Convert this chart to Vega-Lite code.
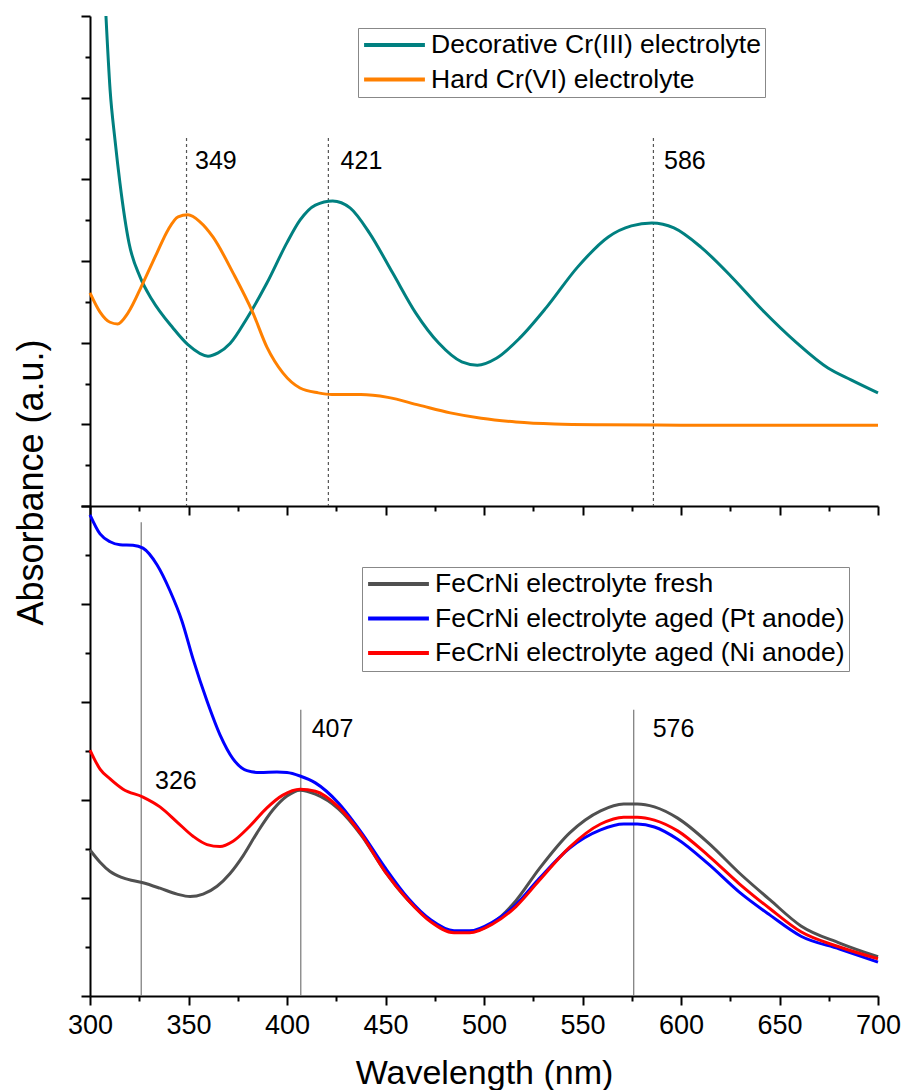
{
  "$schema": "https://vega.github.io/schema/vega-lite/v6.json",
  "padding": {"left": 13, "top": 10, "right": 5, "bottom": 0},
  "spacing": 0,
  "bounds": "flush",
  "config": {
    "view": {"stroke": null},
    "font": "Liberation Sans",
    "axis": {"domainColor": "black", "domainWidth": 2, "tickColor": "black", "tickWidth": 2, "grid": false, "labelFont": "Liberation Sans", "titleFont": "Liberation Sans", "labelColor": "black", "titleColor": "black", "titleFontWeight": "normal", "labelFlush": false},
    "legend": {"labelFont": "Liberation Sans", "labelColor": "black", "labelFontSize": 26.5, "labelLimit": 600, "symbolType": "stroke", "symbolSize": 3700, "symbolStrokeWidth": 4, "padding": 4, "rowPadding": 7.5, "clipHeight": 26, "labelOffset": 4, "strokeColor": "#888888", "fillColor": "white"}
  },
  "resolve": {"scale": {"color": "independent"}, "legend": {"color": "independent"}},
  "datasets": {
    "top": [
      {"s": "Decorative Cr(III) electrolyte", "wl": 308.1, "a": 12.0},
      {"s": "Decorative Cr(III) electrolyte", "wl": 310.2, "a": 10.19},
      {"s": "Decorative Cr(III) electrolyte", "wl": 312.7, "a": 8.96},
      {"s": "Decorative Cr(III) electrolyte", "wl": 315.2, "a": 7.91},
      {"s": "Decorative Cr(III) electrolyte", "wl": 319.8, "a": 6.44},
      {"s": "Decorative Cr(III) electrolyte", "wl": 325.4, "a": 5.61},
      {"s": "Decorative Cr(III) electrolyte", "wl": 331.5, "a": 5.05},
      {"s": "Decorative Cr(III) electrolyte", "wl": 342.1, "a": 4.36},
      {"s": "Decorative Cr(III) electrolyte", "wl": 349.7, "a": 3.95},
      {"s": "Decorative Cr(III) electrolyte", "wl": 359.9, "a": 3.67},
      {"s": "Decorative Cr(III) electrolyte", "wl": 365.0, "a": 3.75},
      {"s": "Decorative Cr(III) electrolyte", "wl": 371.1, "a": 3.98},
      {"s": "Decorative Cr(III) electrolyte", "wl": 379.7, "a": 4.6},
      {"s": "Decorative Cr(III) electrolyte", "wl": 389.8, "a": 5.46},
      {"s": "Decorative Cr(III) electrolyte", "wl": 400.0, "a": 6.45},
      {"s": "Decorative Cr(III) electrolyte", "wl": 406.6, "a": 7.0},
      {"s": "Decorative Cr(III) electrolyte", "wl": 414.4, "a": 7.37},
      {"s": "Decorative Cr(III) electrolyte", "wl": 423.2, "a": 7.47},
      {"s": "Decorative Cr(III) electrolyte", "wl": 432.0, "a": 7.3},
      {"s": "Decorative Cr(III) electrolyte", "wl": 441.8, "a": 6.69},
      {"s": "Decorative Cr(III) electrolyte", "wl": 453.6, "a": 5.71},
      {"s": "Decorative Cr(III) electrolyte", "wl": 465.3, "a": 4.73},
      {"s": "Decorative Cr(III) electrolyte", "wl": 477.0, "a": 3.99},
      {"s": "Decorative Cr(III) electrolyte", "wl": 488.7, "a": 3.53},
      {"s": "Decorative Cr(III) electrolyte", "wl": 496.6, "a": 3.45},
      {"s": "Decorative Cr(III) electrolyte", "wl": 506.3, "a": 3.62},
      {"s": "Decorative Cr(III) electrolyte", "wl": 518.1, "a": 4.11},
      {"s": "Decorative Cr(III) electrolyte", "wl": 531.8, "a": 4.87},
      {"s": "Decorative Cr(III) electrolyte", "wl": 547.5, "a": 5.85},
      {"s": "Decorative Cr(III) electrolyte", "wl": 563.1, "a": 6.59},
      {"s": "Decorative Cr(III) electrolyte", "wl": 574.8, "a": 6.86},
      {"s": "Decorative Cr(III) electrolyte", "wl": 585.2, "a": 6.93},
      {"s": "Decorative Cr(III) electrolyte", "wl": 596.4, "a": 6.81},
      {"s": "Decorative Cr(III) electrolyte", "wl": 610.1, "a": 6.34},
      {"s": "Decorative Cr(III) electrolyte", "wl": 625.7, "a": 5.61},
      {"s": "Decorative Cr(III) electrolyte", "wl": 641.3, "a": 4.8},
      {"s": "Decorative Cr(III) electrolyte", "wl": 658.9, "a": 3.99},
      {"s": "Decorative Cr(III) electrolyte", "wl": 674.6, "a": 3.38},
      {"s": "Decorative Cr(III) electrolyte", "wl": 686.3, "a": 3.09},
      {"s": "Decorative Cr(III) electrolyte", "wl": 700.0, "a": 2.77},
      {"s": "Hard Cr(VI) electrolyte", "wl": 300.0, "a": 5.22},
      {"s": "Hard Cr(VI) electrolyte", "wl": 305.1, "a": 4.75},
      {"s": "Hard Cr(VI) electrolyte", "wl": 310.2, "a": 4.5},
      {"s": "Hard Cr(VI) electrolyte", "wl": 314.0, "a": 4.46},
      {"s": "Hard Cr(VI) electrolyte", "wl": 319.3, "a": 4.73},
      {"s": "Hard Cr(VI) electrolyte", "wl": 326.9, "a": 5.46},
      {"s": "Hard Cr(VI) electrolyte", "wl": 334.0, "a": 6.2},
      {"s": "Hard Cr(VI) electrolyte", "wl": 339.6, "a": 6.76},
      {"s": "Hard Cr(VI) electrolyte", "wl": 344.7, "a": 7.08},
      {"s": "Hard Cr(VI) electrolyte", "wl": 349.7, "a": 7.13},
      {"s": "Hard Cr(VI) electrolyte", "wl": 355.8, "a": 6.96},
      {"s": "Hard Cr(VI) electrolyte", "wl": 362.4, "a": 6.59},
      {"s": "Hard Cr(VI) electrolyte", "wl": 372.6, "a": 5.71},
      {"s": "Hard Cr(VI) electrolyte", "wl": 382.7, "a": 4.73},
      {"s": "Hard Cr(VI) electrolyte", "wl": 389.8, "a": 3.89},
      {"s": "Hard Cr(VI) electrolyte", "wl": 397.9, "a": 3.26},
      {"s": "Hard Cr(VI) electrolyte", "wl": 406.6, "a": 2.89},
      {"s": "Hard Cr(VI) electrolyte", "wl": 415.9, "a": 2.77},
      {"s": "Hard Cr(VI) electrolyte", "wl": 422.8, "a": 2.73},
      {"s": "Hard Cr(VI) electrolyte", "wl": 437.5, "a": 2.73},
      {"s": "Hard Cr(VI) electrolyte", "wl": 451.2, "a": 2.66},
      {"s": "Hard Cr(VI) electrolyte", "wl": 467.0, "a": 2.47},
      {"s": "Hard Cr(VI) electrolyte", "wl": 482.9, "a": 2.28},
      {"s": "Hard Cr(VI) electrolyte", "wl": 498.6, "a": 2.15},
      {"s": "Hard Cr(VI) electrolyte", "wl": 516.2, "a": 2.06},
      {"s": "Hard Cr(VI) electrolyte", "wl": 535.8, "a": 2.01},
      {"s": "Hard Cr(VI) electrolyte", "wl": 560.0, "a": 1.99},
      {"s": "Hard Cr(VI) electrolyte", "wl": 600.0, "a": 1.98},
      {"s": "Hard Cr(VI) electrolyte", "wl": 650.0, "a": 1.98},
      {"s": "Hard Cr(VI) electrolyte", "wl": 700.0, "a": 1.98}
    ],
    "bot": [
      {"s": "FeCrNi electrolyte fresh", "wl": 300.0, "a": 2.98},
      {"s": "FeCrNi electrolyte fresh", "wl": 305.1, "a": 2.73},
      {"s": "FeCrNi electrolyte fresh", "wl": 310.2, "a": 2.54},
      {"s": "FeCrNi electrolyte fresh", "wl": 316.8, "a": 2.41},
      {"s": "FeCrNi electrolyte fresh", "wl": 326.9, "a": 2.31},
      {"s": "FeCrNi electrolyte fresh", "wl": 335.5, "a": 2.2},
      {"s": "FeCrNi electrolyte fresh", "wl": 344.2, "a": 2.08},
      {"s": "FeCrNi electrolyte fresh", "wl": 350.8, "a": 2.03},
      {"s": "FeCrNi electrolyte fresh", "wl": 357.4, "a": 2.08},
      {"s": "FeCrNi electrolyte fresh", "wl": 364.5, "a": 2.24},
      {"s": "FeCrNi electrolyte fresh", "wl": 371.1, "a": 2.5},
      {"s": "FeCrNi electrolyte fresh", "wl": 377.7, "a": 2.86},
      {"s": "FeCrNi electrolyte fresh", "wl": 384.8, "a": 3.33},
      {"s": "FeCrNi electrolyte fresh", "wl": 392.9, "a": 3.8},
      {"s": "FeCrNi electrolyte fresh", "wl": 400.0, "a": 4.08},
      {"s": "FeCrNi electrolyte fresh", "wl": 406.6, "a": 4.2},
      {"s": "FeCrNi electrolyte fresh", "wl": 414.4, "a": 4.12},
      {"s": "FeCrNi electrolyte fresh", "wl": 426.1, "a": 3.82},
      {"s": "FeCrNi electrolyte fresh", "wl": 437.9, "a": 3.27},
      {"s": "FeCrNi electrolyte fresh", "wl": 449.6, "a": 2.55},
      {"s": "FeCrNi electrolyte fresh", "wl": 461.4, "a": 1.96},
      {"s": "FeCrNi electrolyte fresh", "wl": 473.1, "a": 1.53},
      {"s": "FeCrNi electrolyte fresh", "wl": 484.8, "a": 1.31},
      {"s": "FeCrNi electrolyte fresh", "wl": 492.7, "a": 1.31},
      {"s": "FeCrNi electrolyte fresh", "wl": 504.4, "a": 1.49},
      {"s": "FeCrNi electrolyte fresh", "wl": 516.1, "a": 1.94},
      {"s": "FeCrNi electrolyte fresh", "wl": 527.9, "a": 2.59},
      {"s": "FeCrNi electrolyte fresh", "wl": 543.5, "a": 3.33},
      {"s": "FeCrNi electrolyte fresh", "wl": 559.2, "a": 3.78},
      {"s": "FeCrNi electrolyte fresh", "wl": 570.9, "a": 3.92},
      {"s": "FeCrNi electrolyte fresh", "wl": 577.8, "a": 3.92},
      {"s": "FeCrNi electrolyte fresh", "wl": 586.5, "a": 3.86},
      {"s": "FeCrNi electrolyte fresh", "wl": 598.3, "a": 3.63},
      {"s": "FeCrNi electrolyte fresh", "wl": 614.0, "a": 3.12},
      {"s": "FeCrNi electrolyte fresh", "wl": 629.6, "a": 2.51},
      {"s": "FeCrNi electrolyte fresh", "wl": 645.2, "a": 1.96},
      {"s": "FeCrNi electrolyte fresh", "wl": 660.9, "a": 1.43},
      {"s": "FeCrNi electrolyte fresh", "wl": 680.5, "a": 1.08},
      {"s": "FeCrNi electrolyte fresh", "wl": 700.0, "a": 0.8},
      {"s": "FeCrNi electrolyte aged (Pt anode)", "wl": 300.0, "a": 9.82},
      {"s": "FeCrNi electrolyte aged (Pt anode)", "wl": 305.1, "a": 9.43},
      {"s": "FeCrNi electrolyte aged (Pt anode)", "wl": 310.2, "a": 9.27},
      {"s": "FeCrNi electrolyte aged (Pt anode)", "wl": 315.2, "a": 9.21},
      {"s": "FeCrNi electrolyte aged (Pt anode)", "wl": 321.8, "a": 9.2},
      {"s": "FeCrNi electrolyte aged (Pt anode)", "wl": 326.9, "a": 9.14},
      {"s": "FeCrNi electrolyte aged (Pt anode)", "wl": 334.0, "a": 8.8},
      {"s": "FeCrNi electrolyte aged (Pt anode)", "wl": 340.6, "a": 8.27},
      {"s": "FeCrNi electrolyte aged (Pt anode)", "wl": 346.7, "a": 7.65},
      {"s": "FeCrNi electrolyte aged (Pt anode)", "wl": 352.3, "a": 6.88},
      {"s": "FeCrNi electrolyte aged (Pt anode)", "wl": 359.4, "a": 6.02},
      {"s": "FeCrNi electrolyte aged (Pt anode)", "wl": 366.0, "a": 5.33},
      {"s": "FeCrNi electrolyte aged (Pt anode)", "wl": 372.6, "a": 4.84},
      {"s": "FeCrNi electrolyte aged (Pt anode)", "wl": 379.7, "a": 4.6},
      {"s": "FeCrNi electrolyte aged (Pt anode)", "wl": 386.3, "a": 4.56},
      {"s": "FeCrNi electrolyte aged (Pt anode)", "wl": 394.9, "a": 4.57},
      {"s": "FeCrNi electrolyte aged (Pt anode)", "wl": 400.0, "a": 4.56},
      {"s": "FeCrNi electrolyte aged (Pt anode)", "wl": 406.6, "a": 4.49},
      {"s": "FeCrNi electrolyte aged (Pt anode)", "wl": 414.4, "a": 4.35},
      {"s": "FeCrNi electrolyte aged (Pt anode)", "wl": 426.1, "a": 3.94},
      {"s": "FeCrNi electrolyte aged (Pt anode)", "wl": 437.9, "a": 3.33},
      {"s": "FeCrNi electrolyte aged (Pt anode)", "wl": 449.6, "a": 2.63},
      {"s": "FeCrNi electrolyte aged (Pt anode)", "wl": 461.4, "a": 2.0},
      {"s": "FeCrNi electrolyte aged (Pt anode)", "wl": 473.1, "a": 1.55},
      {"s": "FeCrNi electrolyte aged (Pt anode)", "wl": 484.8, "a": 1.33},
      {"s": "FeCrNi electrolyte aged (Pt anode)", "wl": 492.7, "a": 1.33},
      {"s": "FeCrNi electrolyte aged (Pt anode)", "wl": 504.4, "a": 1.51},
      {"s": "FeCrNi electrolyte aged (Pt anode)", "wl": 516.1, "a": 1.86},
      {"s": "FeCrNi electrolyte aged (Pt anode)", "wl": 527.9, "a": 2.39},
      {"s": "FeCrNi electrolyte aged (Pt anode)", "wl": 543.5, "a": 3.02},
      {"s": "FeCrNi electrolyte aged (Pt anode)", "wl": 559.2, "a": 3.39},
      {"s": "FeCrNi electrolyte aged (Pt anode)", "wl": 570.9, "a": 3.51},
      {"s": "FeCrNi electrolyte aged (Pt anode)", "wl": 577.8, "a": 3.51},
      {"s": "FeCrNi electrolyte aged (Pt anode)", "wl": 586.5, "a": 3.45},
      {"s": "FeCrNi electrolyte aged (Pt anode)", "wl": 598.3, "a": 3.2},
      {"s": "FeCrNi electrolyte aged (Pt anode)", "wl": 614.0, "a": 2.69},
      {"s": "FeCrNi electrolyte aged (Pt anode)", "wl": 629.6, "a": 2.12},
      {"s": "FeCrNi electrolyte aged (Pt anode)", "wl": 645.2, "a": 1.65},
      {"s": "FeCrNi electrolyte aged (Pt anode)", "wl": 660.9, "a": 1.22},
      {"s": "FeCrNi electrolyte aged (Pt anode)", "wl": 680.5, "a": 0.96},
      {"s": "FeCrNi electrolyte aged (Pt anode)", "wl": 700.0, "a": 0.69},
      {"s": "FeCrNi electrolyte aged (Ni anode)", "wl": 300.0, "a": 5.02},
      {"s": "FeCrNi electrolyte aged (Ni anode)", "wl": 305.1, "a": 4.63},
      {"s": "FeCrNi electrolyte aged (Ni anode)", "wl": 310.2, "a": 4.43},
      {"s": "FeCrNi electrolyte aged (Ni anode)", "wl": 316.8, "a": 4.22},
      {"s": "FeCrNi electrolyte aged (Ni anode)", "wl": 326.9, "a": 4.06},
      {"s": "FeCrNi electrolyte aged (Ni anode)", "wl": 335.5, "a": 3.86},
      {"s": "FeCrNi electrolyte aged (Ni anode)", "wl": 344.2, "a": 3.55},
      {"s": "FeCrNi electrolyte aged (Ni anode)", "wl": 352.3, "a": 3.26},
      {"s": "FeCrNi electrolyte aged (Ni anode)", "wl": 359.4, "a": 3.09},
      {"s": "FeCrNi electrolyte aged (Ni anode)", "wl": 366.0, "a": 3.05},
      {"s": "FeCrNi electrolyte aged (Ni anode)", "wl": 372.6, "a": 3.16},
      {"s": "FeCrNi electrolyte aged (Ni anode)", "wl": 381.2, "a": 3.47},
      {"s": "FeCrNi electrolyte aged (Ni anode)", "wl": 389.8, "a": 3.84},
      {"s": "FeCrNi electrolyte aged (Ni anode)", "wl": 397.9, "a": 4.1},
      {"s": "FeCrNi electrolyte aged (Ni anode)", "wl": 406.6, "a": 4.22},
      {"s": "FeCrNi electrolyte aged (Ni anode)", "wl": 414.4, "a": 4.18},
      {"s": "FeCrNi electrolyte aged (Ni anode)", "wl": 426.1, "a": 3.86},
      {"s": "FeCrNi electrolyte aged (Ni anode)", "wl": 437.9, "a": 3.29},
      {"s": "FeCrNi electrolyte aged (Ni anode)", "wl": 449.6, "a": 2.55},
      {"s": "FeCrNi electrolyte aged (Ni anode)", "wl": 461.4, "a": 1.96},
      {"s": "FeCrNi electrolyte aged (Ni anode)", "wl": 473.1, "a": 1.51},
      {"s": "FeCrNi electrolyte aged (Ni anode)", "wl": 484.8, "a": 1.29},
      {"s": "FeCrNi electrolyte aged (Ni anode)", "wl": 492.7, "a": 1.29},
      {"s": "FeCrNi electrolyte aged (Ni anode)", "wl": 504.4, "a": 1.47},
      {"s": "FeCrNi electrolyte aged (Ni anode)", "wl": 516.1, "a": 1.82},
      {"s": "FeCrNi electrolyte aged (Ni anode)", "wl": 527.9, "a": 2.35},
      {"s": "FeCrNi electrolyte aged (Ni anode)", "wl": 543.5, "a": 3.04},
      {"s": "FeCrNi electrolyte aged (Ni anode)", "wl": 559.2, "a": 3.51},
      {"s": "FeCrNi electrolyte aged (Ni anode)", "wl": 570.9, "a": 3.65},
      {"s": "FeCrNi electrolyte aged (Ni anode)", "wl": 577.8, "a": 3.65},
      {"s": "FeCrNi electrolyte aged (Ni anode)", "wl": 586.5, "a": 3.59},
      {"s": "FeCrNi electrolyte aged (Ni anode)", "wl": 598.3, "a": 3.37},
      {"s": "FeCrNi electrolyte aged (Ni anode)", "wl": 614.0, "a": 2.86},
      {"s": "FeCrNi electrolyte aged (Ni anode)", "wl": 629.6, "a": 2.29},
      {"s": "FeCrNi electrolyte aged (Ni anode)", "wl": 645.2, "a": 1.78},
      {"s": "FeCrNi electrolyte aged (Ni anode)", "wl": 660.9, "a": 1.31},
      {"s": "FeCrNi electrolyte aged (Ni anode)", "wl": 680.5, "a": 1.0},
      {"s": "FeCrNi electrolyte aged (Ni anode)", "wl": 700.0, "a": 0.76}
    ],
    "topPeaks": [
      {"peak": 349, "ytop": 9.01, "lx": 353.3, "ly": 8.45, "label": "349"},
      {"peak": 421, "ytop": 9.01, "lx": 427.2, "ly": 8.45, "label": "421"},
      {"peak": 586, "ytop": 9.01, "lx": 591.4, "ly": 8.45, "label": "586"}
    ],
    "botPeaks": [
      {"peak": 326, "ytop": 9.67, "lx": 333.0, "ly": 4.39, "label": "326"},
      {"peak": 407, "ytop": 5.84, "lx": 412.5, "ly": 5.45, "label": "407"},
      {"peak": 576, "ytop": 5.84, "lx": 585.6, "ly": 5.45, "label": "576"}
    ]
  },
  "vconcat": [
    {
      "width": 788,
      "height": 490,
      "layer": [
        {
          "data": {"name": "topPeaks"},
          "mark": {"type": "rule", "color": "#555555", "strokeWidth": 1.2, "strokeDash": [3, 3]},
          "encoding": {
            "x": {"field": "peak", "type": "quantitative", "scale": {"domain": [300, 700], "nice": false, "zero": false}, "axis": {"orient": "bottom", "values": [325, 375, 425, 475, 525, 575, 625, 675], "tickSize": 5, "labels": false, "domain": false, "title": null}},
            "y": {"field": "ytop", "type": "quantitative", "scale": {"domain": [0, 12], "nice": false, "zero": false}, "axis": {"orient": "left", "values": [1, 3, 5, 7, 9, 11], "tickSize": 5, "labels": false, "domain": false, "title": null}},
            "y2": {"datum": 0}
          }
        },
        {
          "data": {"name": "top"},
          "mark": {"type": "line", "interpolate": "monotone", "strokeWidth": 3},
          "encoding": {
            "x": {"field": "wl", "type": "quantitative", "scale": {"domain": [300, 700], "nice": false, "zero": false}, "axis": {"orient": "bottom", "values": [300, 350, 400, 450, 500, 550, 600, 650, 700], "tickSize": 9, "labels": false, "title": null}},
            "y": {"field": "a", "type": "quantitative", "scale": {"domain": [0, 12], "nice": false, "zero": false}, "axis": {"orient": "left", "values": [0, 2, 4, 6, 8, 10, 12], "tickSize": 9, "labels": false, "title": "Absorbance (a.u.)", "titleFontSize": 36, "titleAngle": -90, "titleX": -59, "titleY": 466, "titleAlign": "center", "titleBaseline": "middle"}},
            "color": {"field": "s", "type": "nominal", "scale": {"domain": ["Decorative Cr(III) electrolyte", "Hard Cr(VI) electrolyte"], "range": ["#008080", "#ff8000"]}, "legend": {"orient": "none", "legendX": 268, "legendY": 12, "title": null}}
          }
        },
        {
          "data": {"name": "topPeaks"},
          "mark": {"type": "text", "align": "left", "baseline": "middle", "fontSize": 25, "font": "Liberation Sans", "color": "black"},
          "encoding": {
            "x": {"field": "lx", "type": "quantitative", "scale": {"domain": [300, 700], "nice": false, "zero": false}, "axis": null},
            "y": {"field": "ly", "type": "quantitative", "scale": {"domain": [0, 12], "nice": false, "zero": false}, "axis": null},
            "text": {"field": "label"}
          }
        }
      ],
      "resolve": {"axis": {"x": "independent", "y": "independent"}}
    },
    {
      "width": 788,
      "height": 490,
      "layer": [
        {
          "data": {"name": "botPeaks"},
          "mark": {"type": "rule", "color": "#777777", "strokeWidth": 1.2},
          "encoding": {
            "x": {"field": "peak", "type": "quantitative", "scale": {"domain": [300, 700], "nice": false, "zero": false}, "axis": {"orient": "bottom", "values": [325, 375, 425, 475, 525, 575, 625, 675], "tickSize": 5, "labels": false, "domain": false, "title": null}},
            "y": {"field": "ytop", "type": "quantitative", "scale": {"domain": [0, 10], "nice": false, "zero": false}, "axis": {"orient": "left", "values": [1, 3, 5, 7, 9], "tickSize": 5, "labels": false, "domain": false, "title": null}},
            "y2": {"datum": 0}
          }
        },
        {
          "data": {"name": "bot"},
          "mark": {"type": "line", "interpolate": "monotone", "strokeWidth": 3},
          "encoding": {
            "x": {"field": "wl", "type": "quantitative", "scale": {"domain": [300, 700], "nice": false, "zero": false}, "axis": {"orient": "bottom", "values": [300, 350, 400, 450, 500, 550, 600, 650, 700], "tickSize": 9, "labelFontSize": 27, "labelPadding": 7, "title": "Wavelength (nm)", "titleFontSize": 34, "titleY": 87, "titleBaseline": "alphabetic", "titleAlign": "center"}},
            "y": {"field": "a", "type": "quantitative", "scale": {"domain": [0, 10], "nice": false, "zero": false}, "axis": {"orient": "left", "values": [0, 2, 4, 6, 8, 10], "tickSize": 9, "labels": false, "title": null}},
            "color": {"field": "s", "type": "nominal", "scale": {"domain": ["FeCrNi electrolyte fresh", "FeCrNi electrolyte aged (Pt anode)", "FeCrNi electrolyte aged (Ni anode)"], "range": ["#505050", "#0000ff", "#ff0000"]}, "legend": {"orient": "none", "legendX": 272, "legendY": 61, "title": null}}
          }
        },
        {
          "data": {"name": "botPeaks"},
          "mark": {"type": "text", "align": "left", "baseline": "middle", "fontSize": 25, "font": "Liberation Sans", "color": "black"},
          "encoding": {
            "x": {"field": "lx", "type": "quantitative", "scale": {"domain": [300, 700], "nice": false, "zero": false}, "axis": null},
            "y": {"field": "ly", "type": "quantitative", "scale": {"domain": [0, 10], "nice": false, "zero": false}, "axis": null},
            "text": {"field": "label"}
          }
        }
      ],
      "resolve": {"axis": {"x": "independent", "y": "independent"}}
    }
  ]
}
